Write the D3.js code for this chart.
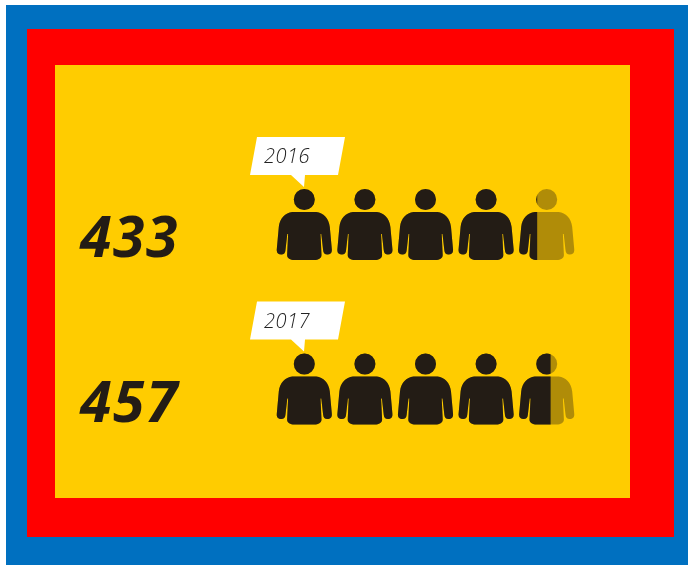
<!DOCTYPE html>
<meta charset="utf-8">
<script src="https://d3js.org/d3.v7.min.js"></script>
<style>
html, body { margin: 0; padding: 0; background: #fff; }
svg { display: block; filter: blur(0.5px); }
.total { font: italic 700 57px "Open Sans", sans-serif; fill: #231c15; letter-spacing: 1.6px; }
.year { font: italic 300 20px "Open Sans", sans-serif; fill: #222; letter-spacing: 0.5px; }
</style>
<body>
<script>

var years = ["2016", "2017"];
var totals = [433, 457];
var peoplePerIcon = 100;
var iconSlots = [0, 1, 2, 3, 4];

var width = 688,
    height = 565;

var svg = d3.select("body").append("svg")
    .attr("width", width)
    .attr("height", height);

// nested frames
svg.append("rect").attr("x", 6).attr("y", 5).attr("width", 682).attr("height", 560).attr("fill", "#0070c0");
svg.append("rect").attr("x", 27).attr("y", 29).attr("width", 647).attr("height", 508).attr("fill", "#ff0000");
svg.append("rect").attr("x", 55).attr("y", 65).attr("width", 575).attr("height", 433).attr("fill", "#ffcc00");

var rowY = d3.scalePoint().domain(years).range([189, 353.5]);
var iconX = d3.scaleBand().domain(iconSlots).range([274, 577]);
var iconFill = d3.scaleLinear().domain([0, 1]).range([-28, 28]);

// one person, drawn around x=0 with the top of the head at y=0
var person = "M-27.5,60 L-25.5,38 C-24.5,29 -19,24 -12,23 L12,23 C19,24 24.5,29 25.5,38 L27.5,60 " +
    "C28,64 26,65.5 23,65.5 C20.5,65.5 19,64 18.8,61 L17,45 L16.2,45 L17.2,66 " +
    "C17.2,69.5 14,71 10,71 L-10,71 C-14,71 -17.2,69.5 -17.2,66 L-16.2,45 L-17,45 L-18.8,61 " +
    "C-19,64 -20.5,65.5 -23,65.5 C-26,65.5 -28,64 -27.5,60 Z " +
    "M-10.5,10.5 A10.5,10.5 0 1,1 10.5,10.5 A10.5,10.5 0 1,1 -10.5,10.5 Z";

var rows = svg.selectAll("g.row")
    .data(years)
    .enter().append("g")
    .attr("class", "row")
    .attr("transform", function(d) { return "translate(0," + rowY(d) + ")"; });

rows.append("text")
    .attr("class", "total")
    .attr("x", 80)
    .attr("y", 68)
    .text(function(d, i) { return totals[i]; });

// year callout
rows.append("path")
    .attr("d", "M257,-52 L345,-52 L338,-14 L305,-14 L304,-2 L291,-14 L250,-14 Z")
    .attr("fill", "#fff");

rows.append("text")
    .attr("class", "year")
    .attr("x", 264)
    .attr("y", -26)
    .text(function(d) { return d; });

rows.each(function(year, r) {
  var icons = d3.select(this).selectAll("g.icon")
      .data(iconSlots)
      .enter().append("g")
      .attr("class", "icon")
      .attr("transform", function(s) { return "translate(" + (iconX(s) + iconX.bandwidth() / 2) + ",0)"; });

  icons.append("clipPath")
      .attr("id", function(s) { return "clip-" + r + "-" + s; })
      .append("rect")
      .attr("x", -30)
      .attr("y", -2)
      .attr("height", 76)
      .attr("width", function(s) {
        var share = Math.max(0, Math.min(1, totals[r] / peoplePerIcon - s));
        return iconFill(share) + 30;
      });

  icons.append("path")
      .attr("d", person)
      .attr("fill", "#231c15")
      .attr("opacity", 0.36);

  icons.append("path")
      .attr("d", person)
      .attr("fill", "#231c15")
      .attr("clip-path", function(s) { return "url(#clip-" + r + "-" + s + ")"; });
});

</script>
</body>
</html>
